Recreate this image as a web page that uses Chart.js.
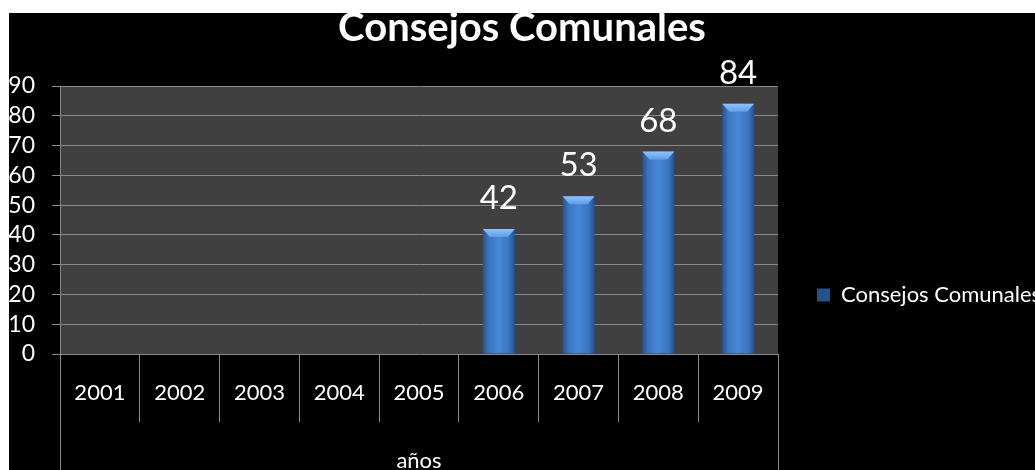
<!DOCTYPE html>
<html>
<head>
<meta charset="utf-8">
<title>Consejos Comunales</title>
<script src="https://cdn.jsdelivr.net/npm/chart.js@4/dist/chart.umd.min.js"></script>
<style>
    html, body { margin: 0; padding: 0; background: #fff; overflow: hidden; }
    #wrap { position: relative; width: 1035px; height: 470px; }
</style>
</head>
<body>
<div id="wrap"><canvas id="myChart"></canvas></div>
<script>
let years = ['2001', '2002', '2003', '2004', '2005', '2006', '2007', '2008', '2009'];
let consejos = [null, null, null, null, null, 42, 53, 68, 84];
let yTicks = [0, 10, 20, 30, 40, 50, 60, 70, 80, 90];

const gridGray = '#8a8a8a';

Chart.defaults.font.family = 'Lato';
Chart.defaults.color = '#ffffff';

function barFill(c) {
    const x = c.chart.scales.x;
    if (!x || c.dataIndex == null || !x.width) return '#3f79c6';
    const cx = x.getPixelForValue(c.dataIndex);
    const w = x.width / years.length * 0.4;
    const g = c.chart.ctx.createLinearGradient(cx - w / 2, 0, cx + w / 2, 0);
    g.addColorStop(0, '#24528f');
    g.addColorStop(0.18, '#3a74c0');
    g.addColorStop(0.5, '#4788d6');
    g.addColorStop(0.82, '#3a74c0');
    g.addColorStop(1, '#24528f');
    return g;
}

// black frame + dark plot area
const background = {
    id: 'background',
    beforeDraw(chart) {
        const {ctx, chartArea: a} = chart;
        ctx.save();
        ctx.fillStyle = '#ffffff';
        ctx.fillRect(0, 0, chart.width, chart.height);
        ctx.fillStyle = '#000000';
        ctx.fillRect(9, 13, chart.width - 9, chart.height - 13);
        ctx.fillStyle = '#404040';
        ctx.fillRect(a.left, a.top, a.right - a.left, a.bottom - a.top);
        ctx.restore();
    },
    afterDraw(chart) {
        // outer lines of the category table go down to the bottom
        const {ctx, chartArea: a} = chart;
        ctx.save();
        ctx.strokeStyle = gridGray;
        ctx.lineWidth = 1;
        [a.left, a.right].forEach(px => {
            const xx = Math.round(px) + 0.5;
            ctx.beginPath();
            ctx.moveTo(xx, a.bottom);
            ctx.lineTo(xx, chart.height);
            ctx.stroke();
        });
        ctx.restore();
    }
};

// legend sits a bit lower than the middle of the plot
const legendShift = {
    id: 'legendShift',
    afterLayout(chart) {
        if (chart.legend) {
            chart.legend.top += 60;
            chart.legend.bottom += 60;
        }
    }
};

// bevel on bar tops + value labels
const barValues = {
    id: 'barValues',
    afterDatasetsDraw(chart) {
        const ctx = chart.ctx;
        const meta = chart.getDatasetMeta(0);
        ctx.save();
        meta.data.forEach((bar, i) => {
            const v = consejos[i];
            if (v == null) return;
            const half = bar.width / 2;
            const g = ctx.createLinearGradient(0, bar.y, 0, bar.y + 8);
            g.addColorStop(0, '#8fc2f8');
            g.addColorStop(1, '#5f9de6');
            ctx.fillStyle = g;
            ctx.beginPath();
            ctx.moveTo(bar.x - half, bar.y);
            ctx.lineTo(bar.x + half, bar.y);
            ctx.lineTo(bar.x + half - 7, bar.y + 8);
            ctx.lineTo(bar.x - half + 7, bar.y + 8);
            ctx.closePath();
            ctx.fill();

            ctx.fillStyle = '#ffffff';
            ctx.font = '33px Lato';
            ctx.textAlign = 'center';
            ctx.textBaseline = 'alphabetic';
            ctx.fillText(String(v), bar.x, bar.y - 20);
        });
        ctx.restore();
    }
};

let ctx = document.getElementById('myChart').getContext('2d');
let myChart = new Chart(ctx, {
    type: 'bar',
    data: {
        labels: years,
        datasets: [
            {
                label: 'Consejos Comunales',
                data: consejos,
                backgroundColor: barFill,
                borderWidth: 0,
                categoryPercentage: 1,
                barPercentage: 0.4
            }
        ]
    },
    options: {
        responsive: true,
        maintainAspectRatio: false,
        animation: false,
        layout: {
            padding: { left: 9, top: 0, right: 0, bottom: 0 }
        },
        scales: {
            x: {
                grid: {
                    display: true,
                    drawOnChartArea: false,
                    color: gridGray,
                    tickLength: 68,
                    offset: true
                },
                border: { display: false },
                ticks: {
                    color: '#ffffff',
                    font: { size: 22 },
                    padding: -42,
                    maxRotation: 0
                },
                title: {
                    display: true,
                    text: 'años',
                    color: '#ffffff',
                    font: { size: 22, lineHeight: 1 },
                    padding: { top: 0, bottom: -2 }
                },
                afterFit: s => { s.height = 116; }
            },
            y: {
                min: 0,
                max: 90,
                grid: {
                    color: gridGray,
                    tickLength: 8
                },
                border: { display: true, color: gridGray },
                ticks: {
                    color: '#ffffff',
                    font: { size: 23, lineHeight: 1 },
                    padding: 17,
                    autoSkip: false
                },
                afterBuildTicks: s => { s.ticks = yTicks.map(v => ({ value: v })); },
                afterFit: s => { s.width = 51; }
            }
        },
        plugins: {
            legend: {
                position: 'right',
                maxWidth: 257,
                labels: {
                    color: '#ffffff',
                    font: { size: 22 },
                    boxWidth: 13,
                    boxHeight: 13,
                    padding: 39
                }
            },
            title: {
                display: true,
                text: 'Consejos Comunales',
                color: '#ffffff',
                font: { size: 40, weight: 'bold', lineHeight: 1 },
                padding: { top: 8, bottom: 38 }
            },
            tooltip: { enabled: false }
        }
    },
    plugins: [background, legendShift, barValues]
});
</script>
</body>
</html>
